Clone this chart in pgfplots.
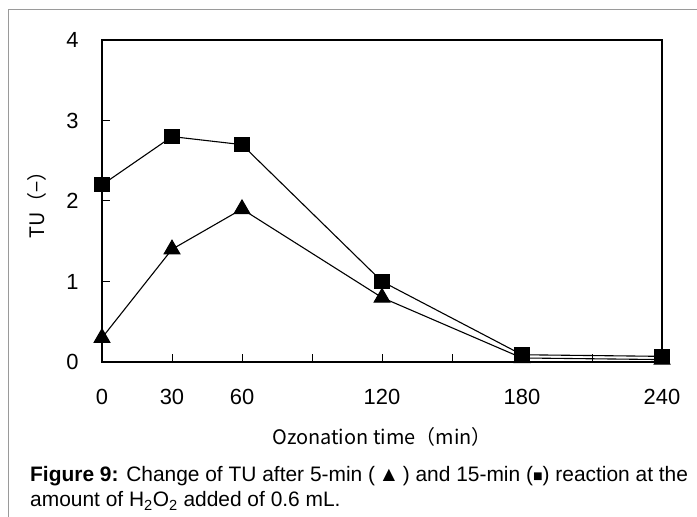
\documentclass[border=0pt]{standalone}
\usepackage{pgfplots}
\pgfplotsset{compat=1.18}
\usepackage{fontspec}
\setmainfont{Liberation Sans}
\newfontfamily\jp{Noto Sans CJK JP}
\definecolor{framegray}{HTML}{9A9A9A}

\begin{document}
\begin{tikzpicture}[x=1bp,y=1bp]
  \path[use as bounding box] (0,0) rectangle (697,517);
  % outer frame (left and top only are visible)
  \draw[framegray, line width=1.3bp] (8.5,0) -- (8.5,507.5) -- (697,507.5);

  \begin{axis}[
      at={(102bp,155bp)}, anchor=south west,
      scale only axis,
      width=560bp, height=322bp,
      xmin=0, xmax=240, ymin=0, ymax=4,
      axis line style={line width=1.6bp},
      xtick={0,30,...,240},
      xticklabels={0,30,60,,120,,180,,240},
      ytick={0,1,2,3,4},
      tick align=inside,
      major tick length=8bp,
      tick style={black, line width=1bp},
      xtick pos=bottom, ytick pos=left,
      /pgf/number format/assume math mode=true,
      ticklabel style={font=\fontsize{22}{24}\selectfont},
      xticklabel style={yshift=-24bp},
      yticklabel style={xshift=-20bp},
      xlabel={\jp Ozonation time（min）},
      xlabel style={font=\fontsize{20}{22}\selectfont, at={(axis description cs:0.5,-0.233)}, anchor=center},
      ylabel={\jp TU（−）},
      ylabel style={font=\fontsize{20}{22}\selectfont, at={(axis description cs:-0.117,0.503)}, anchor=center, rotate=0},
      clip=false,
    ]
    % 15-min reaction
    \addplot[black, line width=1.1bp, mark=square*, mark size=7bp,
             mark options={solid, fill=black}] coordinates {
      (0,2.2) (30,2.8) (60,2.7) (120,1.0) (180,0.09) (240,0.07)
    };
    % 5-min reaction
    \addplot[black, line width=1.1bp, mark=triangle*, mark size=9bp,
             mark options={solid, fill=black}] coordinates {
      (0,0.3) (30,1.4) (60,1.9) (120,0.8) (180,0.05) (240,0.03)
    };
  \end{axis}

  \node[anchor=base west, inner sep=0, font=\fontsize{21}{24}\selectfont]
    at (30,35) {\textbf{Figure 9:} Change of TU after 5-min (\,▲\,) and 15-min ({\fontsize{16}{16}\selectfont ■}) reaction at the};
  \node[anchor=base west, inner sep=0, font=\fontsize{21}{24}\selectfont]
    at (30,10) {amount of H\textsubscript{2}O\textsubscript{2} added of 0.6 mL.};
\end{tikzpicture}
\end{document}
